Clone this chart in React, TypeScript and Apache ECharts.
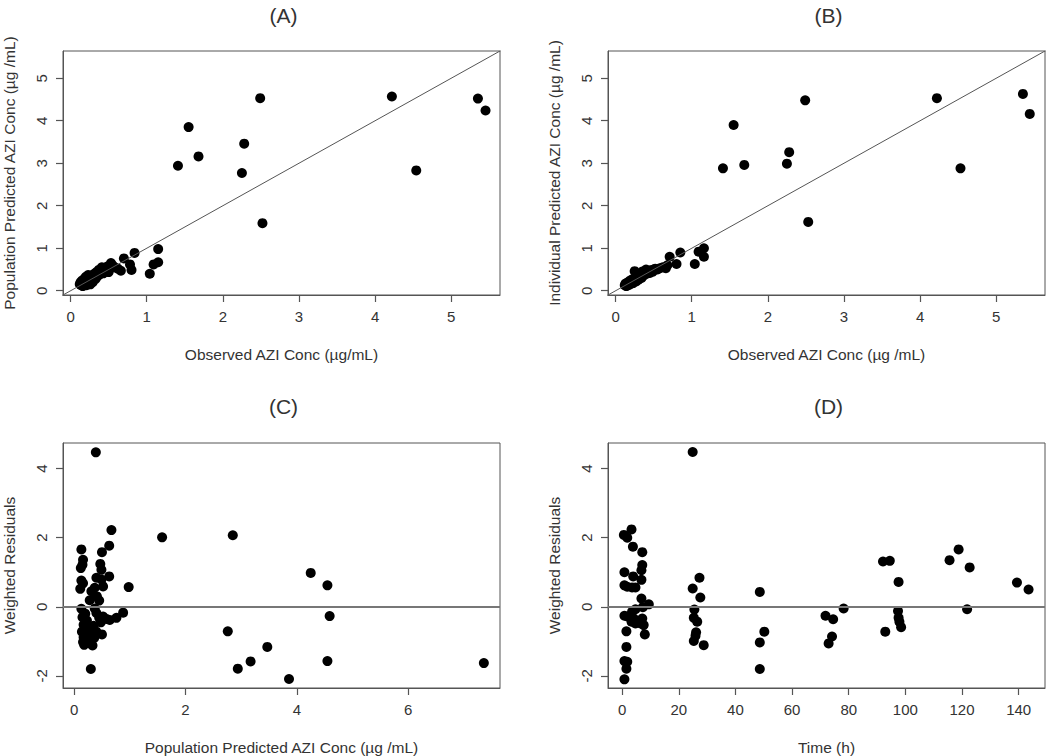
import React, { useEffect, useRef } from "react";
import * as echarts from "echarts";

const panelTitles = ["(A)", "(B)", "(C)", "(D)"];
const xAxisTitles = [
  "Observed AZI Conc (\u00b5g/mL)",
  "Observed AZI Conc (\u00b5g /mL)",
  "Population Predicted AZI Conc (\u00b5g /mL)",
  "Time (h)",
];
const yAxisTitles = [
  "Population Predicted AZI Conc (\u00b5g /mL)",
  "Individual Predicted AZI Conc (\u00b5g /mL)",
  "Weighted Residuals",
  "Weighted Residuals",
];

const concTicks = [0, 1, 2, 3, 4, 5];
const predTicksC = [0, 2, 4, 6];
const timeTicks = [0, 20, 40, 60, 80, 100, 120, 140];
const residTicks = [-2, 0, 2, 4];

// (A) observed vs population predicted
const panelA: number[][] = [
  [0.12, 0.15], [0.13, 0.2], [0.14, 0.13], [0.15, 0.17], [0.15, 0.24], [0.16, 0.11],
  [0.17, 0.19], [0.18, 0.28], [0.19, 0.15], [0.2, 0.22], [0.2, 0.33], [0.21, 0.13],
  [0.22, 0.26], [0.23, 0.37], [0.24, 0.19], [0.25, 0.3], [0.26, 0.15], [0.27, 0.36],
  [0.28, 0.24], [0.29, 0.2], [0.3, 0.31], [0.31, 0.4], [0.33, 0.28], [0.34, 0.44],
  [0.35, 0.34], [0.37, 0.49], [0.38, 0.38], [0.4, 0.45], [0.41, 0.55], [0.43, 0.41],
  [0.44, 0.52], [0.46, 0.47], [0.48, 0.57], [0.5, 0.44], [0.52, 0.53], [0.53, 0.65],
  [0.55, 0.6], [0.58, 0.55], [0.62, 0.52], [0.66, 0.47],
  [0.7, 0.76], [0.84, 0.89], [0.78, 0.62], [0.8, 0.49], [1.04, 0.4], [1.09, 0.62],
  [1.15, 0.67], [1.15, 0.98], [1.41, 2.94], [1.55, 3.85], [1.68, 3.16], [2.25, 2.77],
  [2.28, 3.46], [2.49, 4.53], [2.52, 1.59], [4.22, 4.57], [4.54, 2.83], [5.35, 4.52],
  [5.45, 4.24],
];

// (B) observed vs individual predicted
const panelB: number[][] = [
  [0.12, 0.13], [0.13, 0.17], [0.14, 0.11], [0.15, 0.15], [0.16, 0.2], [0.17, 0.13],
  [0.18, 0.18], [0.19, 0.24], [0.2, 0.16], [0.21, 0.21], [0.22, 0.27], [0.23, 0.18],
  [0.24, 0.24], [0.25, 0.46], [0.26, 0.3], [0.27, 0.22], [0.28, 0.28], [0.29, 0.35],
  [0.3, 0.26], [0.31, 0.32], [0.33, 0.39], [0.34, 0.3], [0.35, 0.45], [0.37, 0.36],
  [0.38, 0.42], [0.4, 0.5], [0.41, 0.4], [0.43, 0.46], [0.45, 0.42], [0.47, 0.49],
  [0.49, 0.45], [0.52, 0.52], [0.55, 0.5], [0.58, 0.53], [0.62, 0.55], [0.66, 0.53],
  [0.68, 0.6],
  [0.71, 0.8], [0.8, 0.63], [0.85, 0.9], [1.04, 0.63], [1.09, 0.92], [1.16, 1.0],
  [1.16, 0.8], [1.41, 2.88], [1.55, 3.9], [1.69, 2.96], [2.25, 2.99], [2.28, 3.26],
  [2.49, 4.48], [2.53, 1.62], [4.22, 4.53], [4.53, 2.88], [5.35, 4.63], [5.44, 4.16],
];

// (C) population predicted vs weighted residuals
const panelC: number[][] = [
  [0.39, 4.47], [0.67, 2.22], [1.58, 2.01], [2.85, 2.07], [0.63, 1.77], [0.5, 1.58],
  [0.13, 1.66], [0.16, 1.36], [0.15, 1.22], [0.12, 1.12], [0.47, 1.24], [0.49, 1.07],
  [0.4, 0.84], [0.63, 0.88], [0.13, 0.76], [0.16, 0.68], [0.11, 0.52], [0.49, 0.79],
  [0.37, 0.55], [0.52, 0.59], [0.98, 0.57], [0.31, 0.45], [0.41, 0.3], [0.45, 0.18],
  [0.28, 0.19], [4.25, 0.98], [4.55, 0.62],
  [0.13, -0.06], [0.15, -0.3], [0.17, -0.52], [0.14, -0.72], [0.17, -0.88], [0.16, -1.02],
  [0.18, -1.1], [0.2, -0.2], [0.23, -0.4], [0.25, -0.6], [0.22, -0.8], [0.25, -0.95],
  [0.28, -1.05], [0.26, -0.7], [0.37, -0.05], [0.4, -0.18], [0.45, -0.32], [0.52, -0.28],
  [0.58, -0.35], [0.64, -0.38], [0.76, -0.32], [0.88, -0.17], [0.35, -0.55], [0.4, -0.72],
  [0.36, -0.9], [0.33, -1.12], [0.48, -0.45], [0.5, -0.8], [0.3, -1.8],
  [4.59, -0.27], [2.76, -0.71], [3.47, -1.16], [3.17, -1.58], [2.94, -1.79], [3.86, -2.09],
  [4.55, -1.57], [7.36, -1.63],
];

// (D) time vs weighted residuals
const panelD: number[][] = [
  [24.9, 4.48], [3.3, 2.24], [0.6, 2.08], [1.8, 2.0], [3.8, 1.74], [7.1, 1.58],
  [7.1, 1.21], [6.8, 1.06], [0.8, 1.0], [3.9, 0.88], [6.8, 0.78], [0.8, 0.62],
  [1.8, 0.58], [3.5, 0.56], [4.7, 0.56], [6.8, 0.24], [9.4, 0.07], [7.3, -0.01],
  [0.8, -0.26], [1.8, -0.28], [3.5, -0.14], [4.7, -0.07], [2.9, -0.26], [4.1, -0.34],
  [4.7, -0.48], [3.3, -0.43], [7.1, -0.34], [6.5, -0.48], [7.6, -0.53], [1.5, -0.71],
  [8.0, -0.8], [1.5, -1.16], [0.8, -1.57], [1.8, -1.59], [1.5, -1.79], [0.8, -2.1],
  [24.9, 0.53], [27.3, 0.84], [27.6, 0.27], [25.5, -0.08], [25.3, -0.32], [26.5, -0.43],
  [26.1, -0.74], [25.9, -0.84], [25.3, -0.99], [28.8, -1.11],
  [48.6, 0.43], [50.2, -0.72], [48.6, -1.03], [48.6, -1.8],
  [71.8, -0.26], [74.5, -0.36], [78.2, -0.05], [74.1, -0.86], [72.9, -1.06],
  [92.1, 1.31], [94.5, 1.33], [97.6, 0.72], [92.9, -0.72], [97.4, -0.12], [97.6, -0.32],
  [97.9, -0.43], [98.5, -0.59],
  [115.6, 1.35], [118.8, 1.66], [122.7, 1.14], [121.8, -0.07],
  [139.4, 0.7], [143.5, 0.5],
];

const identityLine = [[-1, -1], [10, 10]];

const FONT = "'Liberation Sans', Arial, sans-serif";
const TEXT = "#333";
const LINE = "#555";

const grids = [
  { left: 63, top: 51, width: 437, height: 244 },
  { left: 608, top: 51, width: 437, height: 244 },
  { left: 63, top: 443, width: 437, height: 245 },
  { left: 608, top: 443, width: 437, height: 245 },
];

const xRanges = [
  [-0.1, 5.64],
  [-0.1, 5.64],
  [-0.2, 7.65],
  [-5, 149.3],
];
const yRanges = [
  [-0.1, 5.64],
  [-0.1, 5.64],
  [-2.35, 4.74],
  [-2.35, 4.74],
];
const xTicks = [concTicks, concTicks, predTicksC, timeTicks];
const yTicks = [concTicks, concTicks, residTicks, residTicks];

function axisCommon(ticks: number[]) {
  return {
    type: "value",
    axisLine: { show: true, onZero: false, lineStyle: { color: LINE, width: 1 } },
    splitLine: { show: false },
    axisTick: {
      show: true,
      length: 7,
      inside: false,
      customValues: ticks,
      lineStyle: { color: LINE, width: 1.2 },
    },
  };
}

export default function App() {
  const ref = useRef<HTMLDivElement>(null);
  useEffect(() => {
    if (!ref.current) return;
    const chart = echarts.init(ref.current, undefined, { renderer: "svg" });
    const panels = [panelA, panelB, panelC, panelD];
    const option: any = {
      animation: false,
      backgroundColor: "#fff",
      textStyle: { fontFamily: FONT },
      title: grids.map((g, i) => ({
        text: panelTitles[i],
        left: g.left + g.width / 2 - 3,
        top: i < 2 ? 0 : 391,
        textAlign: "center",
        textStyle: { fontFamily: FONT, fontSize: 21, fontWeight: "normal", color: TEXT },
      })),
      grid: grids.map((g) => ({
        ...g,
        show: true,
        borderColor: LINE,
        borderWidth: 1,
        backgroundColor: "transparent",
        containLabel: false,
      })),
      xAxis: grids.map((g, i) => ({
        ...axisCommon(xTicks[i]),
        gridIndex: i,
        min: xRanges[i][0],
        max: xRanges[i][1],
        name: xAxisTitles[i],
        nameLocation: "middle",
        nameGap: 51,
        nameTextStyle: { fontFamily: FONT, fontSize: 15.5, color: TEXT },
        axisLabel: {
          customValues: xTicks[i],
          margin: 14,
          fontFamily: FONT,
          fontSize: 15,
          color: TEXT,
        },
      })),
      yAxis: grids.map((g, i) => ({
        ...axisCommon(yTicks[i]),
        gridIndex: i,
        min: yRanges[i][0],
        max: yRanges[i][1],
        name: yAxisTitles[i],
        nameLocation: "middle",
        nameGap: 46,
        nameTextStyle: { fontFamily: FONT, fontSize: 15.5, color: TEXT },
        axisLabel: {
          customValues: yTicks[i],
          rotate: 90,
          margin: 14,
          fontFamily: FONT,
          fontSize: 15,
          color: TEXT,
        },
      })),
      series: [] as any[],
    };
    panels.forEach((pts, i) => {
      if (i < 2) {
        option.series.push({
          type: "line",
          xAxisIndex: i,
          yAxisIndex: i,
          data: identityLine,
          symbol: "none",
          clip: true,
          silent: true,
          lineStyle: { color: "#555", width: 1 },
        });
      }
      option.series.push({
        type: "scatter",
        xAxisIndex: i,
        yAxisIndex: i,
        data: pts,
        symbol: "circle",
        symbolSize: 10,
        itemStyle: { color: "#000", opacity: 1 },
        markLine:
          i >= 2
            ? {
                silent: true,
                symbol: ["none", "none"],
                label: { show: false },
                lineStyle: { color: "#777", width: 2, type: "solid" },
                data: [{ yAxis: 0 }],
              }
            : undefined,
      });
    });
    chart.setOption(option);
    return () => chart.dispose();
  }, []);
  return (
    <div
      ref={ref}
      style={{ position: "fixed", left: 0, top: 0, width: 1050, height: 756, background: "#fff" }}
    />
  );
}
